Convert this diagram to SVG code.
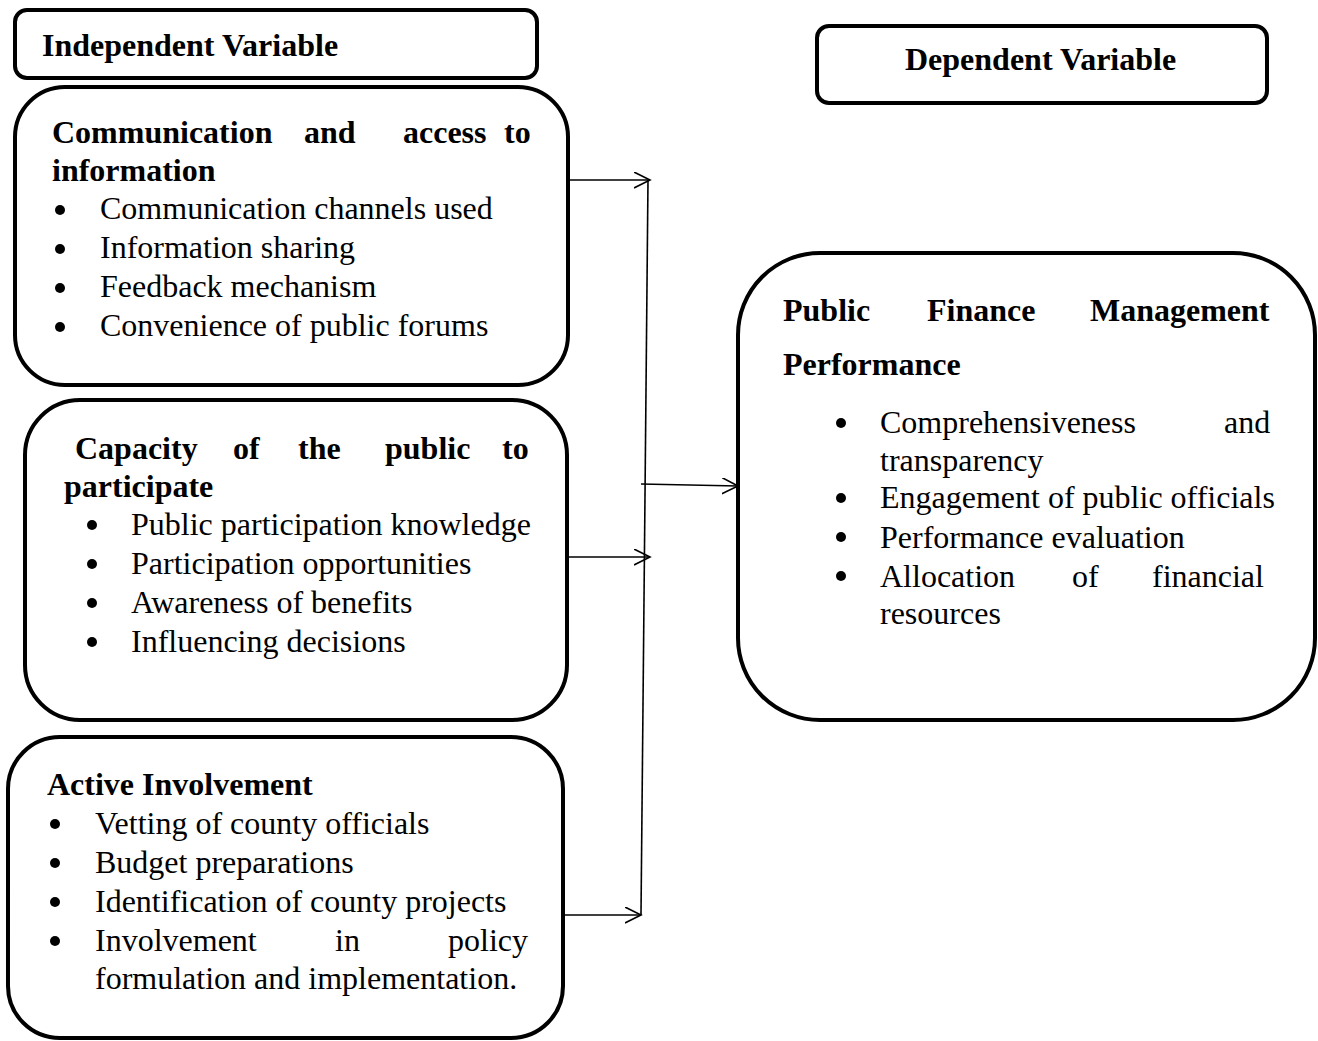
<svg xmlns="http://www.w3.org/2000/svg" width="1318" height="1041" viewBox="0 0 1318 1041">
  <style>
    .box { fill: #ffffff; stroke: #000000; stroke-width: 4; }
    .hd { font-family: "Liberation Serif", "Times New Roman", serif; font-size: 32px; font-weight: bold; fill: #000; }
    .tx { font-family: "Liberation Serif", "Times New Roman", serif; font-size: 32px; fill: #000; }
    .bul { fill: #000; }
    .link { stroke: #000; stroke-width: 1.6; fill: none; }
  </style>
  <defs>
    <marker id="arrow" markerUnits="userSpaceOnUse" markerWidth="20" markerHeight="20" refX="16" refY="8" orient="auto">
      <path d="M0,0 L16,8 L0,16" fill="none" stroke="#000" stroke-width="1.6"/>
    </marker>
  </defs>

  <!-- header labels -->
  <g id="independent-label">
    <rect class="box" x="15" y="10" width="522" height="68" rx="12"/>
    <text class="hd" x="42" y="56">Independent Variable</text>
  </g>
  <g id="dependent-label">
    <rect class="box" x="817" y="26" width="450" height="77" rx="12"/>
    <text class="hd" x="905" y="70">Dependent Variable</text>
  </g>

  <!-- independent variable: communication -->
  <g id="communication">
    <rect class="box" x="15" y="87" width="553" height="298" rx="50"/>
    <text class="hd" y="143"><tspan x="52">Communication</tspan><tspan x="304">and</tspan><tspan x="403">access</tspan><tspan x="504">to</tspan></text>
    <text class="hd" x="52" y="181">information</text>
    <circle class="bul" cx="60" cy="210" r="5"/>
    <circle class="bul" cx="60" cy="249" r="5"/>
    <circle class="bul" cx="60" cy="288" r="5"/>
    <circle class="bul" cx="60" cy="327" r="5"/>
    <text class="tx" x="100" y="219">Communication channels used</text>
    <text class="tx" x="100" y="258">Information sharing</text>
    <text class="tx" x="100" y="297">Feedback mechanism</text>
    <text class="tx" x="100" y="336">Convenience of public forums</text>
  </g>

  <!-- independent variable: capacity -->
  <g id="capacity">
    <rect class="box" x="25" y="400" width="542" height="320" rx="55"/>
    <text class="hd" y="459"><tspan x="75">Capacity</tspan><tspan x="233">of</tspan><tspan x="298">the</tspan><tspan x="385">public</tspan><tspan x="502">to</tspan></text>
    <text class="hd" x="64" y="497">participate</text>
    <circle class="bul" cx="92" cy="525" r="5"/>
    <circle class="bul" cx="92" cy="564" r="5"/>
    <circle class="bul" cx="92" cy="603" r="5"/>
    <circle class="bul" cx="92" cy="642" r="5"/>
    <text class="tx" x="131" y="535">Public participation knowledge</text>
    <text class="tx" x="131" y="574">Participation opportunities</text>
    <text class="tx" x="131" y="613">Awareness of benefits</text>
    <text class="tx" x="131" y="652">Influencing decisions</text>
  </g>

  <!-- independent variable: active involvement -->
  <g id="active-involvement">
    <rect class="box" x="8" y="737" width="555" height="301" rx="52"/>
    <text class="hd" x="47" y="795">Active Involvement</text>
    <circle class="bul" cx="55" cy="824" r="5"/>
    <circle class="bul" cx="55" cy="863" r="5"/>
    <circle class="bul" cx="55" cy="902" r="5"/>
    <circle class="bul" cx="55" cy="941" r="5"/>
    <text class="tx" x="95" y="834">Vetting of county officials</text>
    <text class="tx" x="95" y="873">Budget preparations</text>
    <text class="tx" x="95" y="912">Identification of county projects</text>
    <text class="tx" y="951"><tspan x="95">Involvement</tspan><tspan x="335">in</tspan><tspan x="448">policy</tspan></text>
    <text class="tx" x="95" y="989">formulation and implementation.</text>
  </g>

  <!-- dependent variable -->
  <g id="pfm-performance">
    <rect class="box" x="738" y="253" width="577" height="467" rx="82"/>
    <text class="hd" y="321"><tspan x="783">Public</tspan><tspan x="927">Finance</tspan><tspan x="1090">Management</tspan></text>
    <text class="hd" x="783" y="375">Performance</text>
    <circle class="bul" cx="841" cy="423" r="5"/>
    <circle class="bul" cx="841" cy="498" r="5"/>
    <circle class="bul" cx="841" cy="537" r="5"/>
    <circle class="bul" cx="841" cy="576" r="5"/>
    <text class="tx" y="433"><tspan x="880">Comprehensiveness</tspan><tspan x="1224">and</tspan></text>
    <text class="tx" x="880" y="471">transparency</text>
    <text class="tx" x="880" y="508">Engagement of public officials</text>
    <text class="tx" x="880" y="548">Performance evaluation</text>
    <text class="tx" y="587"><tspan x="880">Allocation</tspan><tspan x="1072">of</tspan><tspan x="1152">financial</tspan></text>
    <text class="tx" x="880" y="624">resources</text>
  </g>

  <!-- connectors -->
  <g id="connectors">
    <line class="link" x1="648" y1="180" x2="641" y2="915"/>
    <line class="link" x1="568" y1="180" x2="650" y2="180" marker-end="url(#arrow)"/>
    <line class="link" x1="567" y1="557" x2="650" y2="557" marker-end="url(#arrow)"/>
    <line class="link" x1="563" y1="915" x2="641" y2="915" marker-end="url(#arrow)"/>
    <line class="link" x1="641" y1="484" x2="738" y2="486" marker-end="url(#arrow)"/>
  </g>
</svg>
